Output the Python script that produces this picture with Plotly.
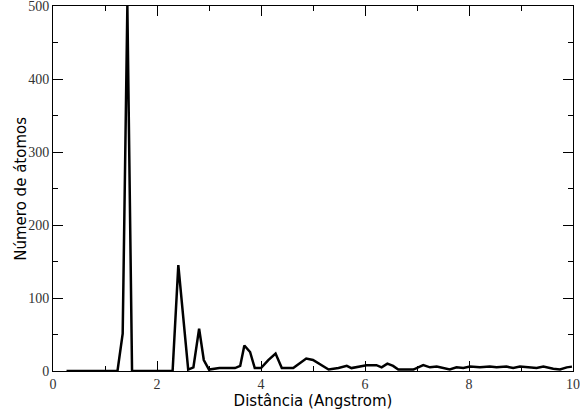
import plotly.graph_objects as go

# Radial distribution: atom counts versus distance
distancia = [0.26, 1.24, 1.34, 1.43, 1.52, 1.62, 2.30, 2.41, 2.52, 2.60,
             2.70, 2.81, 2.90, 3.00, 3.20, 3.50, 3.60, 3.68, 3.79, 3.88,
             4.00, 4.14, 4.28, 4.40, 4.62, 4.75, 4.87, 5.00, 5.17, 5.30,
             5.49, 5.65, 5.74, 5.90, 6.03, 6.22, 6.32, 6.43, 6.54, 6.64,
             6.93, 7.12, 7.25, 7.38, 7.50, 7.63, 7.76, 7.89, 8.02, 8.21,
             8.40, 8.53, 8.72, 8.85, 8.98, 9.17, 9.30, 9.43, 9.62, 9.75,
             9.88, 9.98]
atomos = [0, 0, 51, 500, 0, 0, 0, 145, 65, 2,
          5, 58, 15, 2, 4, 4, 7, 35, 26, 4,
          4, 15, 24, 4, 4, 11, 17, 15, 8, 2,
          4, 7, 4, 6, 8, 8, 5, 10, 7, 2,
          2, 8, 5, 6, 4, 2, 5, 4, 6, 5,
          6, 5, 6, 4, 6, 5, 4, 6, 3, 2,
          5, 6]

x_ticks = [0, 2, 4, 6, 8, 10]
y_ticks = [0, 100, 200, 300, 400, 500]

fig = go.Figure(
    go.Scatter(
        x=distancia, y=atomos, mode="lines",
        line=dict(color="black", width=2.5),
        showlegend=False,
    )
)

tick_font = dict(family="Liberation Serif", size=14, color="#333")
title_font = dict(family="DejaVu Sans", size=15, color="black")

axis_common = dict(
    showgrid=False, zeroline=False,
    showline=True, linecolor="black", linewidth=1, mirror="allticks",
    ticks="inside", ticklen=10, tickwidth=1, tickcolor="black",
    tickfont=tick_font, ticklabeloverflow="allow", automargin=False,
)

fig.update_xaxes(
    range=[0, 10], tickvals=x_ticks,
    title=dict(text="Distância (Angstrom)", font=title_font, standoff=0),
    minor=dict(ticks="inside", ticklen=5, dtick=1, tickcolor="black"),
    **axis_common,
)
fig.update_yaxes(
    range=[0, 500], tickvals=y_ticks,
    minor=dict(ticks="inside", ticklen=5, dtick=50, tickcolor="black"),
    **axis_common,
)

# Vertical axis title placed as an annotation so it can sit close to the tick labels
fig.add_annotation(
    text="Número de átomos", font=title_font, textangle=-90,
    xref="paper", yref="paper", x=-0.063, y=0.5,
    xanchor="center", yanchor="middle", showarrow=False,
)

fig.update_layout(
    width=580, height=414,
    margin=dict(l=53, r=7, t=6, b=43),
    paper_bgcolor="white", plot_bgcolor="white",
)

fig.write_html("out.html")
